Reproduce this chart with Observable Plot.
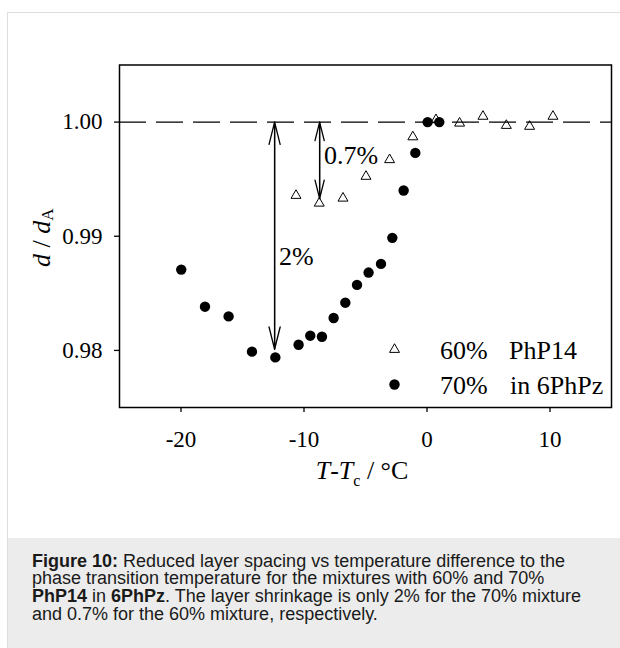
<!DOCTYPE html>
<html><head><meta charset="utf-8">
<script src="https://cdn.jsdelivr.net/npm/d3@7"></script>
<script src="https://cdn.jsdelivr.net/npm/@observablehq/plot@0.6"></script>
<style>
html,body{margin:0;padding:0;background:#fff;width:620px;height:648px;overflow:hidden;}
#wrap{position:relative;width:620px;height:648px;overflow:hidden;}
#border{position:absolute;left:7px;top:12px;width:700px;height:700px;border:1px solid #dedede;box-sizing:border-box;}
#chart{position:absolute;left:0;top:0;}
#caption{position:absolute;left:8px;top:538px;width:700px;height:120px;background:#ececec;font-family:"Liberation Sans",Arial,sans-serif;font-size:18px;line-height:17.8px;color:#1a1a1a;padding:14.5px 0 0 24px;box-sizing:border-box;white-space:nowrap;}
</style></head>
<body>
<div id="wrap">
<div id="border"></div>
<div id="chart"></div>
<div id="caption"><b>Figure 10:</b> Reduced layer spacing vs temperature difference to the<br>phase transition temperature for the mixtures with 60% and 70%<br><b>PhP14</b> in <b>6PhPz</b>. The layer shrinkage is only 2% for the 70% mixture<br>and 0.7% for the 60% mixture, respectively.</div>
</div>
<script>
// 60% PhP14 (open triangles)
const t60 = [-10.65, -8.76, -6.83, -4.96, -3.04, -1.15, 0.73, 2.65, 4.55, 6.45, 8.34, 10.24];
const d60 = [0.99357, 0.99289, 0.99333, 0.99524, 0.99670, 0.99870, 1.0002, 0.9999, 1.0005, 0.9997, 0.99962, 1.0005];
// 70% PhP14 (filled circles)
const t70 = [-19.98, -18.05, -16.13, -14.23, -12.33, -10.44, -9.49, -8.54, -7.59, -6.64, -5.69, -4.75, -3.74, -2.82, -1.90, -0.95, 0.05, 1.0];
const d70 = [0.98708, 0.98383, 0.98298, 0.97989, 0.97939, 0.98050, 0.98129, 0.98120, 0.98284, 0.98418, 0.98574, 0.98682, 0.98758, 0.98986, 0.99401, 0.99730, 1.0000, 1.0000];

const xTicks = [-20, -10, 0, 10];
const yTicks = [0.98, 0.99, 1.00];
const xDomain = [-25, 15];
const yDomain = [0.975, 1.005];
const refLevel = [1.00];

// shrinkage annotations (double arrows)
const arrowX = [-12.39, -8.73];
const arrowTop = [1.0, 1.0];
const arrowBottom = [0.9801, 0.9933];
const arrowLabels = ["2%", "0.7%"];
const arrowLabelY = [0.98749, 0.99635];
const arrowHead = [26.5, 22];

const legendPct = ["60%", "70%"];
const legendNames = ["PhP14", "in 6PhPz"];
const legendSymbols = ["triangle", "circle"];

const s60 = t60.map((t, i) => ({t, d: d60[i]}));
const s70 = t70.map((t, i) => ({t, d: d70[i]}));

const W = 620, H = 538;
const mL = 119, mR = 9, mT = 64.5, mB = 131;
const serif = "'Liberation Serif', 'Times New Roman', serif";

const marks = [
  Plot.ruleY(refLevel, {stroke: "black", strokeWidth: 1.3, strokeDasharray: "27 10"}),
];
arrowX.forEach((x, i) => {
  const a = [{x, y1: arrowTop[i], y2: arrowBottom[i]}];
  marks.push(Plot.arrow(a, {x1: "x", x2: "x", y1: "y1", y2: "y2", stroke: "black", strokeWidth: 1.3, headAngle: 28, headLength: arrowHead[i], insetStart: 0, insetEnd: 0}));
  marks.push(Plot.arrow(a, {x1: "x", x2: "x", y1: "y2", y2: "y1", stroke: "black", strokeWidth: 1.3, headAngle: 28, headLength: arrowHead[i], insetStart: 0, insetEnd: 0}));
});
marks.push(Plot.text(arrowLabels.map((s, i) => ({x: arrowX[i], y: arrowLabelY[i], s})), {x: "x", y: "y", text: "s", dx: 4.5, textAnchor: "start", lineAnchor: "bottom", fontSize: 26, fontFamily: serif, fill: "black"}));
marks.push(Plot.dot(s60, {x: "t", y: "d", symbol: "triangle", r: 3.7, stroke: "black", strokeWidth: 1, fill: "none"}));
marks.push(Plot.dot(s70, {x: "t", y: "d", r: 5.2, fill: "black", stroke: "none"}));

// legend, anchored to the frame's bottom-left corner
const legendRowDy = [-58, -23];
const legendTextDy = [-48.3, -14];
legendPct.forEach((p, i) => {
  const sym = legendSymbols[i];
  marks.push(Plot.dot([0], sym === "triangle"
    ? {frameAnchor: "bottom-left", dx: 275, dy: legendRowDy[i], symbol: "triangle", r: 3.7, stroke: "black", strokeWidth: 1, fill: "none"}
    : {frameAnchor: "bottom-left", dx: 275, dy: legendRowDy[i], r: 5.2, fill: "black", stroke: "none"}));
  marks.push(Plot.text([p], {frameAnchor: "bottom-left", dx: 320.5, dy: legendTextDy[i], text: d => d, textAnchor: "start", lineAnchor: "bottom", fontSize: 26, fontFamily: serif, fill: "black"}));
  marks.push(Plot.text([legendNames[i]], {frameAnchor: "bottom-left", dx: 389.5 + i, dy: legendTextDy[i], text: d => d, textAnchor: "start", lineAnchor: "bottom", fontSize: 26, fontFamily: serif, fill: "black"}));
});

marks.push(Plot.axisX({ticks: xTicks, tickSize: 5, tickPadding: 18, fontSize: 23, fontFamily: serif, strokeWidth: 1.3, label: null, tickFormat: d => String(d).replace("\u2212", "-")}));
marks.push(Plot.axisY({ticks: yTicks, tickSize: 5, tickPadding: 12, fontSize: 23, fontFamily: serif, strokeWidth: 1.3, label: null, tickFormat: d3.format(".2f")}));
marks.push(Plot.frame({stroke: "black", strokeWidth: 1.5}));

const chart = Plot.plot({
  width: W, height: H,
  marginLeft: mL, marginRight: mR, marginTop: mT, marginBottom: mB,
  x: {domain: xDomain},
  y: {domain: yDomain},
  style: {fontFamily: serif, color: "black", background: "transparent", overflow: "visible"},
  marks
});
document.getElementById("chart").appendChild(chart);

const svg = d3.select(chart);
// force the serif face on every text of the chart (tick labels included)
svg.selectAll("g, text").style("font-family", serif).style("font-variant", "normal");
svg.selectAll("g[aria-label='x-axis tick label'], g[aria-label='y-axis tick label']").style("font-size", "23px").attr("fill", "black");

// axis titles with italic symbols and subscripts
const cx = (mL + (W - mR)) / 2 - 3;
const cy = (mT + (H - mB)) / 2 + 2;
const xl = svg.append("text").attr("x", cx).attr("y", H - mB + 72).attr("text-anchor", "middle")
  .attr("font-size", 26).attr("fill", "black").style("white-space", "pre").style("font-family", serif);
xl.append("tspan").attr("font-style", "italic").text("T");
xl.append("tspan").text("-");
xl.append("tspan").attr("font-style", "italic").text("T");
xl.append("tspan").attr("font-size", 16).attr("dy", 7).text("c");
xl.append("tspan").attr("dy", -7).text(" / \u00B0C");

const yl = svg.append("text").attr("transform", `translate(50,${cy}) rotate(-90)`).attr("text-anchor", "middle")
  .attr("font-size", 26).attr("fill", "black").style("white-space", "pre").style("font-family", serif);
yl.append("tspan").attr("font-style", "italic").text("d");
yl.append("tspan").text(" / ");
yl.append("tspan").attr("font-style", "italic").text("d");
yl.append("tspan").attr("font-size", 17).attr("dy", 3).text("A");
</script>
</body></html>
